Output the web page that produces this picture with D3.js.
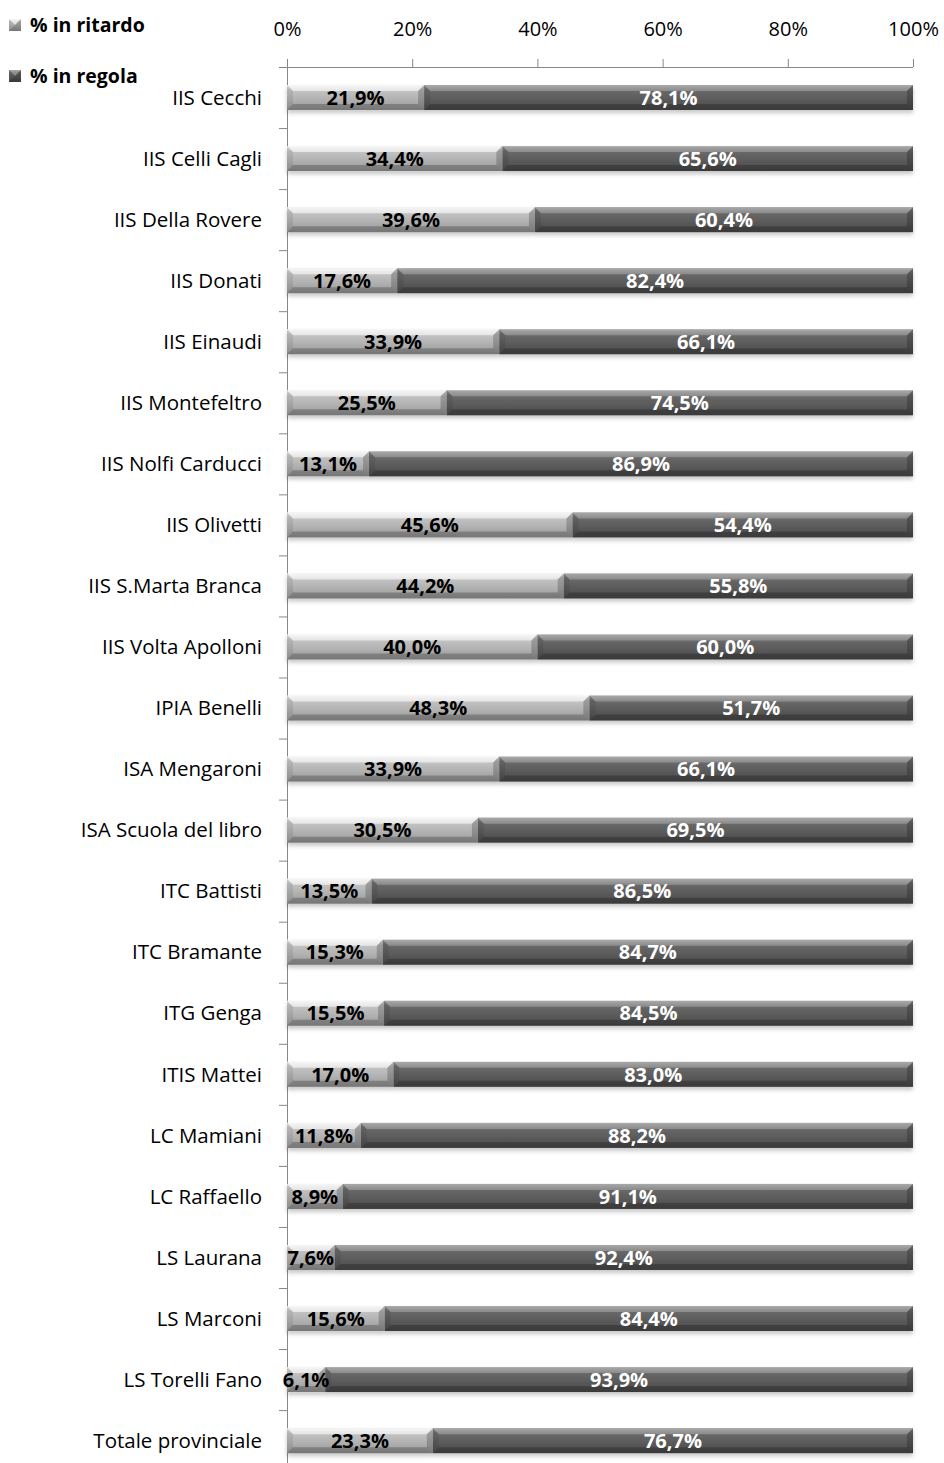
<!DOCTYPE html>
<html>
<head>
<meta charset="utf-8">
<script src="https://cdn.jsdelivr.net/npm/d3@7"></script>
<style>
body { margin:0; background:#fff; }
svg { display:block; font-family: "Open Sans", sans-serif; }
</style>
</head>
<body>
<svg id="chart" width="944" height="1463"></svg>
<script>
var schools = ["IIS Cecchi", "IIS Celli Cagli", "IIS Della Rovere", "IIS Donati", "IIS Einaudi",
  "IIS Montefeltro", "IIS Nolfi Carducci", "IIS Olivetti", "IIS S.Marta Branca", "IIS Volta Apolloni",
  "IPIA Benelli", "ISA Mengaroni", "ISA Scuola del libro", "ITC Battisti", "ITC Bramante",
  "ITG Genga", "ITIS Mattei", "LC Mamiani", "LC Raffaello", "LS Laurana", "LS Marconi",
  "LS Torelli Fano", "Totale provinciale"];
var ritardo = [21.9, 34.4, 39.6, 17.6, 33.9, 25.5, 13.1, 45.6, 44.2, 40.0, 48.3, 33.9, 30.5,
  13.5, 15.3, 15.5, 17.0, 11.8, 8.9, 7.6, 15.6, 6.1, 23.3];
var regola = [78.1, 65.6, 60.4, 82.4, 66.1, 74.5, 86.9, 54.4, 55.8, 60.0, 51.7, 66.1, 69.5,
  86.5, 84.7, 84.5, 83.0, 88.2, 91.1, 92.4, 84.4, 93.9, 76.7];
var seriesNames = ["% in ritardo", "% in regola"];
var xTicks = [0, 20, 40, 60, 80, 100];

var svg = d3.select("#chart");
var defs = svg.append("defs");

// gradients for the two series
function grad(id, stops) {
  var g = defs.append("linearGradient").attr("id", id).attr("x1", 0).attr("y1", 0).attr("x2", 0).attr("y2", 1);
  stops.forEach(function(s) { g.append("stop").attr("offset", s[0]).attr("stop-color", s[1]); });
}
grad("gLight", [[0, "#e8e8e8"], [0.2, "#c4c4c4"], [0.6, "#b0b0b0"], [1, "#989898"]]);
grad("gDark", [[0, "#8c8c8c"], [0.2, "#6a6a6a"], [0.6, "#5a5a5a"], [1, "#4a4a4a"]]);
var f = defs.append("filter").attr("id", "shadow").attr("x", "-5%").attr("y", "-30%").attr("width", "110%").attr("height", "180%");
f.append("feDropShadow").attr("dx", 0).attr("dy", 3).attr("stdDeviation", 2).attr("flood-color", "#000").attr("flood-opacity", 0.22);

var x = d3.scaleLinear().domain([0, 100]).range([287, 913]);
var yBand = d3.scaleBand().domain(schools).range([67, 67 + 61.05 * schools.length]);

// top axis
var xAxis = svg.append("g").attr("transform", "translate(0,67)")
  .call(d3.axisTop(x).tickValues(xTicks).tickFormat(function(d) { return d + "%"; }).tickSize(8).tickPadding(23));
xAxis.select(".domain").attr("stroke", "#888").attr("d", "M279,0.5H913");
xAxis.selectAll(".tick line").attr("stroke", "#888");
xAxis.selectAll(".tick text").attr("font-size", 20).attr("fill", "#000").attr("font-family", "'Open Sans', sans-serif");

// left axis: tick marks between categories
var yAxis = svg.append("g").attr("transform", "translate(287,0)");
yAxis.append("line").attr("x1", 0.5).attr("x2", 0.5).attr("y1", 59).attr("y2", 1463).attr("stroke", "#888");
yAxis.selectAll("line.tk").data(schools).enter().append("line").attr("class", "tk")
  .attr("x1", -8).attr("x2", 0)
  .attr("y1", function(d) { return yBand(d) + yBand.bandwidth() + 0.5; })
  .attr("y2", function(d) { return yBand(d) + yBand.bandwidth() + 0.5; })
  .attr("stroke", "#888");
svg.append("g").selectAll("text").data(schools).enter().append("text")
  .attr("x", 262).attr("y", function(d) { return yBand(d) + yBand.bandwidth() / 2; })
  .attr("dy", "0.35em").attr("text-anchor", "end").attr("font-size", 20.5).attr("fill", "#000")
  .text(function(d) { return d; });

// bevelled segment
function bevel(g, x0, x1, y0, h, fillId, light) {
  var b = Math.min(6, (x1 - x0) / 2);
  var s = g.append("g");
  s.append("rect").attr("x", x0).attr("y", y0).attr("width", x1 - x0).attr("height", h).attr("fill", "url(#" + fillId + ")");
  var hi = light ? "rgba(255,255,255,0.6)" : "rgba(255,255,255,0.25)";
  var lo = "rgba(0,0,0,0.22)";
  s.append("polygon").attr("points", [[x0, y0], [x1, y0], [x1 - b, y0 + b], [x0 + b, y0 + b]].join(" ")).attr("fill", hi);
  s.append("polygon").attr("points", [[x0, y0], [x0 + b, y0 + b], [x0 + b, y0 + h - b], [x0, y0 + h]].join(" ")).attr("fill", "rgba(0,0,0,0.08)");
  s.append("polygon").attr("points", [[x1, y0], [x1 - b, y0 + b], [x1 - b, y0 + h - b], [x1, y0 + h]].join(" ")).attr("fill", "rgba(0,0,0,0.2)");
  s.append("polygon").attr("points", [[x0, y0 + h], [x0 + b, y0 + h - b], [x1 - b, y0 + h - b], [x1, y0 + h]].join(" ")).attr("fill", lo);
}

var bars = svg.append("g");
schools.forEach(function(d, i) {
  var g = bars.append("g").attr("filter", "url(#shadow)");
  var yy = yBand(d) + yBand.bandwidth() / 2 - 12.5;
  bevel(g, x(0), x(ritardo[i]), yy, 25, "gLight", true);
  bevel(g, x(ritardo[i]), x(100), yy, 25, "gDark", false);
});

function fmt(v) { return v.toFixed(1).replace(".", ",") + "%"; }
var lbl = svg.append("g").attr("font-size", 20).attr("font-weight", "bold");
schools.forEach(function(d, i) {
  var cy = yBand(d) + yBand.bandwidth() / 2;
  lbl.append("text").attr("x", x(ritardo[i] / 2)).attr("y", cy).attr("dy", "0.36em")
    .attr("text-anchor", "middle").attr("fill", "#000").text(fmt(ritardo[i]));
  lbl.append("text").attr("x", x(ritardo[i] + regola[i] / 2)).attr("y", cy).attr("dy", "0.36em")
    .attr("text-anchor", "middle").attr("fill", "#fff").text(fmt(regola[i]));
});

// legend
var leg = svg.append("g");
var legY = [25, 76];
seriesNames.forEach(function(n, i) {
  var gg = leg.append("g");
  bevel(gg, 9, 21, legY[i] - 6, 12, i === 0 ? "gLight" : "gDark", i === 0);
  leg.append("text").attr("x", 30).attr("y", legY[i]).attr("dy", "0.35em")
    .attr("font-size", 19.5).attr("font-weight", "bold").text(n);
});
</script>
</body>
</html>
